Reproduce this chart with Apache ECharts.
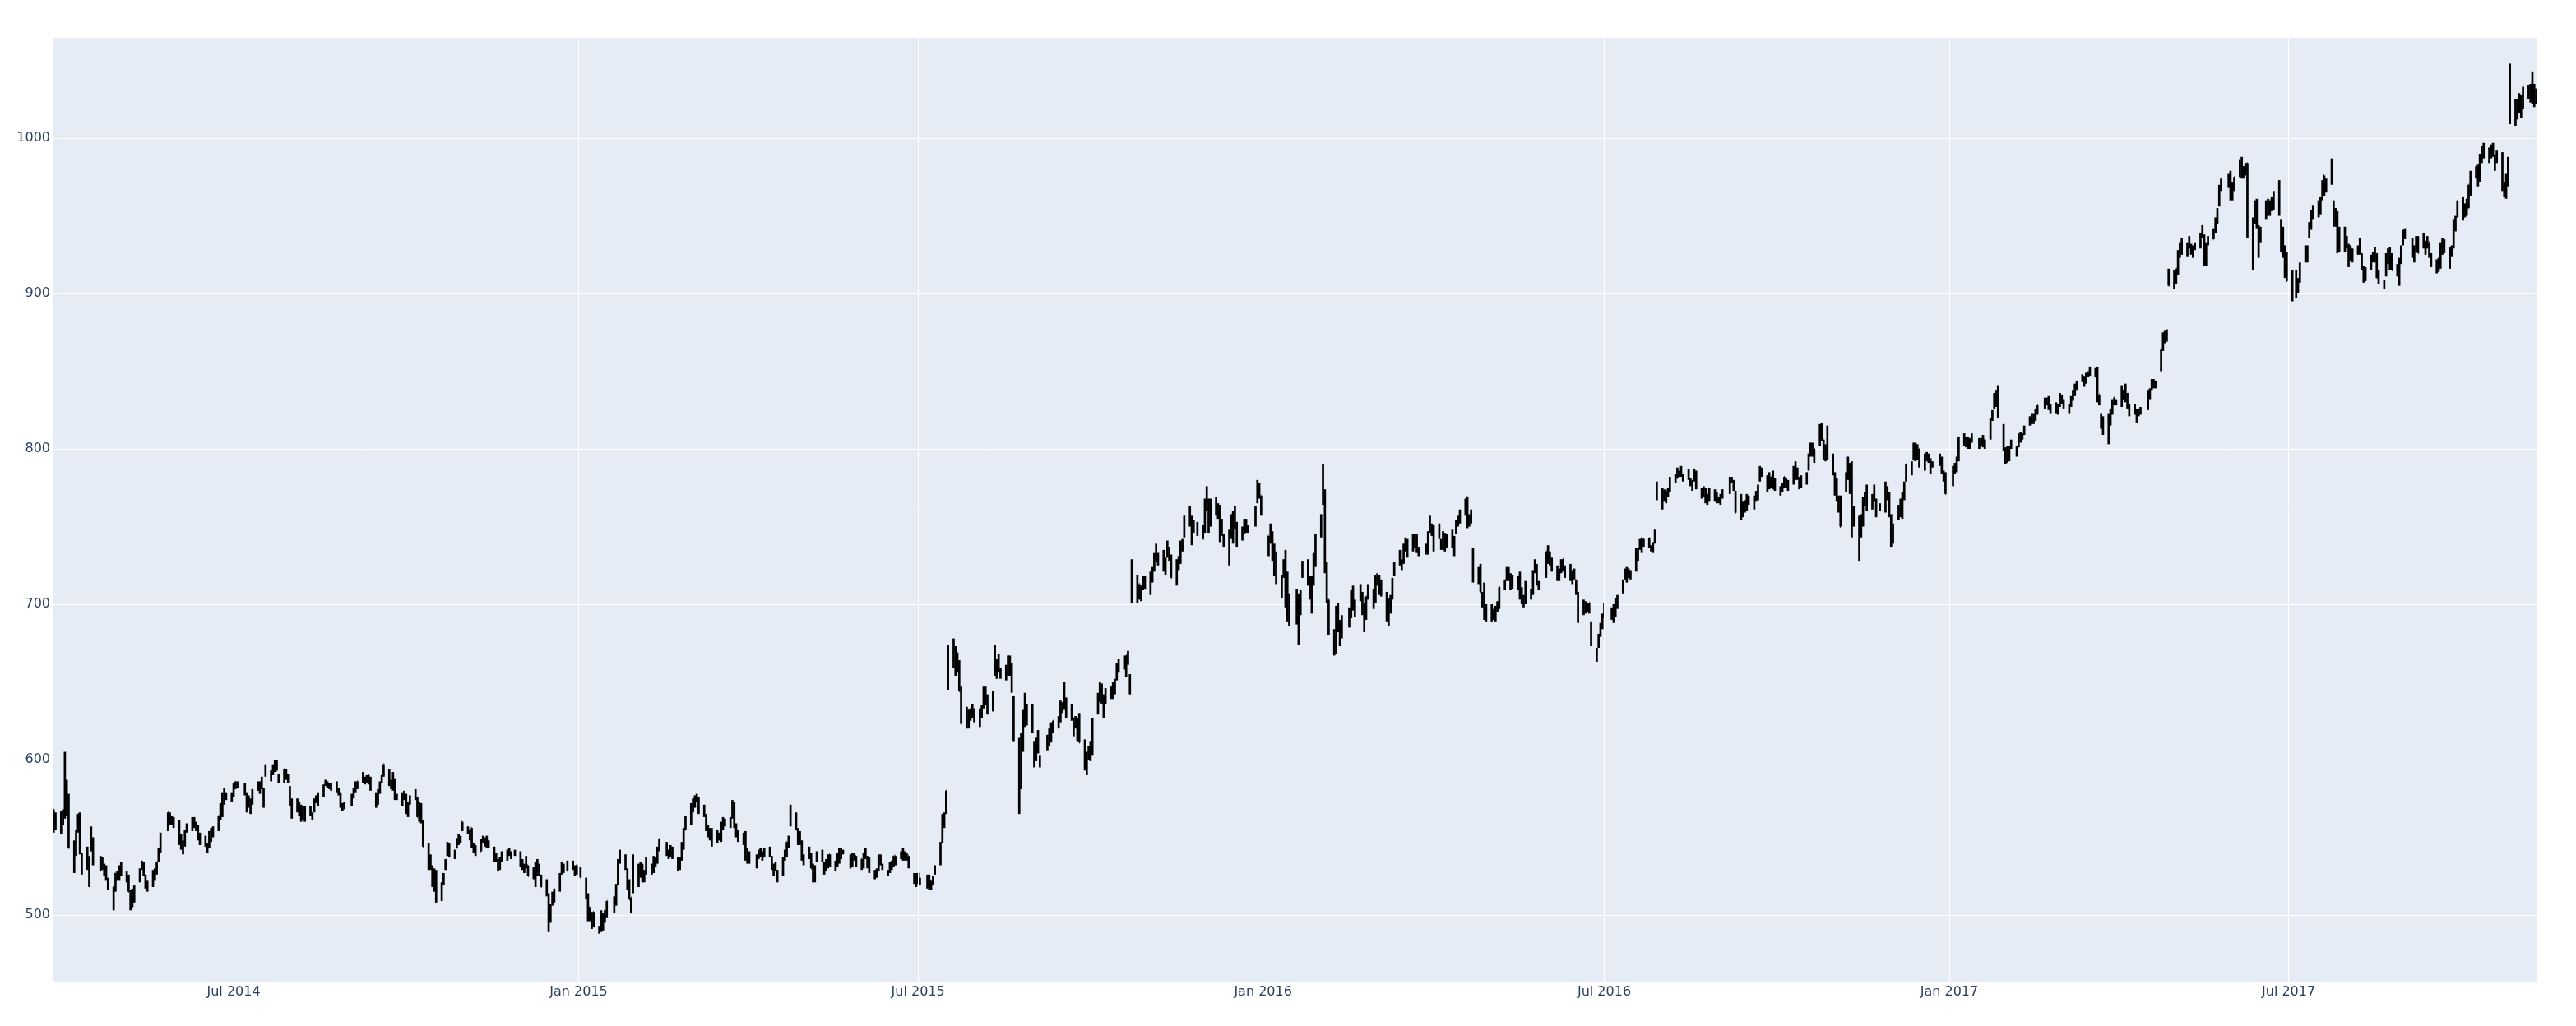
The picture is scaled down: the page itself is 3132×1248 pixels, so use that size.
<!DOCTYPE html>
<html>
<head>
<meta charset="utf-8">
<title>OHLC</title>
<script src="https://cdn.jsdelivr.net/npm/echarts@6.0.0/dist/echarts.min.js"></script>
<style>
  html, body { margin: 0; padding: 0; background: #fff; }
  #chart { width: 3132px; height: 1248px; }
</style>
</head>
<body>
<div id="chart"></div>
<script>
// daily [open, high, low, close], one inner list per month, in trading-day order
const ohlc2014 = [
  // Mar (from 27th)
  [[568,568,553,558],[561,566,555,560],[566,567,552,557]],
  // Apr
  [[558,568,558,567],[600,605,562,567],[570,587,564,570],[575,578,543,543],[541,548,527,538],[543,555,538,554],[559,565,553,565],[565,566,539,540],[532,540,526,530],[538,544,529,533],[536,538,518,536],[544,557,541,556],[548,550,532,537],[537,538,528,535],[536,537,529,534],[533,533,525,527],[531,532,522,526],[523,524,516,517],[518,518,503,517],[517,527,515,527],[527,528,522,527]],
  // May
  [[526,532,522,531],[533,534,525,527],[524,528,521,527],[525,526,515,515],[515,516,503,509],[508,517,505,512],[511,519,508,518],[524,530,521,529],[531,535,529,533],[533,534,525,526],[525,526,517,520],[521,522,515,520],[520,529,518,528],[528,530,522,526],[528,534,526,534],[536,543,534,540],[541,553,540,552],[556,566,554,566],[565,566,558,559],[563,564,558,561],[561,563,556,560]],
  // Jun
  [[560,561,545,553],[550,552,542,544],[541,548,539,544],[546,555,544,553],[558,559,553,557],[557,563,554,562],[560,563,556,560],[558,560,554,558],[557,558,548,551],[552,553,545,551],[549,551,544,544],[544,546,540,543],[544,554,543,553],[554,556,547,555],[556,557,550,556],[556,564,554,564],[565,572,561,565],[565,579,563,578],[578,582,571,576],[577,579,574,577],[578,579,573,575]],
  // Jul
  [[578,585,576,582],[583,586,581,583],[584,586,582,584],[583,585,577,582],[577,579,566,571],[572,577,569,576],[566,575,565,571],[572,581,571,580],[582,586,580,584],[585,586,578,583],[588,589,581,582],[580,582,569,574],[593,597,589,594],[592,593,586,589],[591,597,590,594],[593,600,592,596],[595,600,593,593],[590,591,585,590],[588,594,585,594],[593,594,587,588],[590,591,585,588],[581,583,570,572]],
  // Aug
  [[570,575,562,566],[569,575,566,573],[572,573,564,565],[561,571,560,566],[568,570,561,563],[563,570,560,568],[569,570,564,567],[564,566,561,563],[567,575,566,574],[576,577,572,575],[578,579,570,574],[577,584,576,582],[585,587,583,586],[585,586,582,585],[584,585,581,583],[583,585,580,582],[585,586,579,580],[581,582,577,578],[578,579,569,572],[570,572,567,570],[572,573,568,572]],
  // Sep
  [[571,578,570,577],[580,582,575,578],[580,586,579,582],[584,586,581,586],[587,592,585,589],[588,589,584,586],[587,590,585,589],[587,590,584,590],[588,589,580,581],[578,579,569,573],[572,581,571,579],[580,586,578,584],[586,590,585,589],[591,597,589,597],[593,594,583,587],[586,587,581,582],[582,592,580,591],[587,588,574,575],[576,578,574,577],[571,579,570,576],[576,580,574,577]],
  // Oct
  [[576,578,565,568],[567,573,563,570],[574,577,571,575],[578,581,574,577],[575,576,563,563],[564,573,560,572],[571,572,559,560],[558,561,544,544],[544,546,529,530],[535,539,529,536],[529,532,518,530],[520,530,515,524],[528,529,508,511],[510,521,509,520],[526,527,519,526],[530,536,529,533],[539,547,538,544],[545,546,537,539],[538,542,536,540],[543,549,543,549],[549,552,545,549],[547,551,546,550],[560,560,554,559]],
  // Nov
  [[556,557,552,555],[553,555,548,554],[556,556,543,545],[546,546,540,542],[545,545,538,541],[541,549,541,547],[548,551,546,550],[549,550,544,547],[550,551,543,546],[547,548,543,545],[543,544,534,537],[536,540,534,536],[535,536,528,530],[530,537,529,535],[540,541,534,537],[537,542,535,539],[540,543,538,541],[540,541,536,540],[540,542,538,541]],
  // Dec
  [[538,541,531,533],[533,536,529,534],[531,533,527,531],[531,538,530,537],[532,532,525,525],[526,531,523,527],[523,534,518,533],[533,536,525,526],[527,533,525,528],[524,526,518,518],[522,523,512,514],[512,514,489,496],[497,507,495,505],[510,515,506,513],[511,517,508,516],[516,527,515,523],[528,534,526,530],[531,533,527,528],[529,535,528,534],[533,535,529,530],[529,532,525,531],[532,532,526,527]]
];

const ohlc2015 = [
  // Jan
  [[529,531,524,524],[523,524,510,511],[513,514,496,499],[505,505,496,497],[496,502,491,500],[502,502,492,493],[492,493,488,490],[497,503,489,493],[492,501,490,498],[503,503,495,500],[500,509,498,509],[511,512,501,506],[507,520,506,518],[521,536,519,534],[536,542,533,539],[538,539,529,535],[529,530,516,518],[522,523,510,510],[511,511,501,511],[515,539,514,534]],
  // Feb
  [[532,533,518,528],[527,534,524,529],[527,533,521,522],[523,529,521,527],[528,537,526,531],[529,533,526,527],[530,538,527,536],[535,537,531,535],[537,544,533,542],[543,549,541,549],[546,547,538,541],[541,542,536,539],[538,545,537,543],[543,544,536,538],[536,537,528,531],[530,537,529,536],[536,547,535,543],[543,556,542,555],[555,564,555,558]],
  // Mar
  [[560,572,558,571],[570,575,566,573],[571,577,569,573],[575,578,573,575],[574,576,565,567],[566,571,563,569],[564,565,554,555],[555,558,550,552],[553,556,548,555],[553,556,544,548],[550,555,546,554],[551,553,548,551],[552,560,547,559],[560,563,555,557],[561,562,557,560],[558,563,556,559],[563,574,562,570],[570,573,556,558],[557,559,550,555],[553,555,547,548],[551,553,545,552],[549,554,535,541]],
  // Apr
  [[539,543,533,542],[540,541,533,535],[533,539,530,536],[537,542,536,537],[538,543,537,541],[541,541,535,540],[542,543,537,540],[538,544,537,539],[537,538,529,530],[529,533,525,532],[530,534,528,533],[528,529,521,524],[526,537,525,535],[539,542,535,539],[540,547,537,547],[544,551,543,547],[566,571,557,565],[563,566,555,555],[555,556,545,553],[550,554,545,549],[547,548,535,537]],
  // May
  [[538,539,532,537],[538,544,536,540],[538,540,530,530],[531,533,521,524],[524,532,521,530],[536,541,534,538],[538,542,534,535],[531,534,526,530],[531,536,528,529],[533,539,530,538],[539,539,531,533],[531,535,528,532],[533,540,531,537],[538,543,533,539],[538,543,536,542],[541,542,539,540],[538,539,530,532],[533,540,531,539],[538,540,535,539],[538,538,531,532]],
  // Jun
  [[536,536,529,533],[532,540,530,537],[539,543,536,539],[537,538,530,536],[536,537,527,529],[528,529,523,526],[527,530,524,526],[529,539,528,536],[538,539,532,535],[532,533,529,532],[528,529,525,528],[529,534,527,533],[531,535,529,534],[532,538,531,538],[538,538,532,533],[537,541,536,538],[540,543,535,540],[540,541,535,538],[538,540,535,536],[538,538,530,532],[526,527,520,521],[526,527,518,521]],
  // Jul
  [[525,527,520,524],[522,524,519,523],[519,526,517,522],[524,526,516,525],[522,522,516,517],[524,525,519,520],[527,532,526,530],[533,547,532,546],[547,565,546,561],[561,566,556,560],[566,580,565,580],[650,674,645,673],[660,678,659,664],[660,673,654,662],[660,669,656,662],[661,664,644,644],[647,647,623,623],[621,634,620,627],[632,632,620,628],[628,633,625,632],[630,636,627,631],[632,633,624,625]],
  // Aug
  [[625,633,621,631],[629,635,627,629],[634,647,633,644],[645,647,635,643],[640,642,629,635],[639,644,631,633],[669,674,654,660],[658,665,652,659],[662,668,656,657],[655,659,652,657],[658,661,651,660],[661,667,654,656],[656,667,654,660],[656,662,643,647],[640,641,612,612],[573,614,565,589],[614,617,581,582],[610,632,605,628],[640,643,621,637],[633,636,622,630],[627,636,617,619]],
  // Sep
  [[602,612,595,597],[605,614,599,614],[617,619,604,606],[600,603,595,600],[612,616,606,612],[616,620,609,613],[613,624,611,621],[619,625,617,625],[625,628,620,624],[626,638,624,635],[635,637,630,635],[637,650,632,642],[637,640,627,629],[634,636,625,635],[627,627,615,622],[622,628,620,622],[617,627,612,625],[629,630,611,611],[610,613,593,594],[597,605,590,594],[603,609,600,608]],
  // Oct
  [[608,612,599,611],[607,627,603,626],[632,643,629,641],[639,650,637,645],[648,649,636,642],[641,642,627,639],[640,646,636,643],[642,647,639,646],[643,650,639,645],[647,652,642,651],[654,662,651,661],[664,665,656,662],[661,667,658,666],[664,667,653,667],[667,670,661,662],[653,655,642,651],[714,729,701,702],[702,719,701,712],[707,713,703,713],[708,712,702,712],[710,718,709,716],[715,718,710,710]],
  // Nov
  [[711,721,706,721],[718,724,714,722],[722,733,721,728],[729,739,727,731],[731,733,725,733],[730,735,721,724],[724,730,719,728],[732,741,730,735],[731,737,728,732],[729,732,717,717],[715,729,712,728],[729,731,722,726],[727,741,726,740],[738,742,734,738],[747,757,743,756],[757,763,750,755],[749,757,738,749],[750,754,746,748],[749,753,744,750],[749,751,742,742]],
  // Dec
  [[747,768,746,767],[768,776,760,762],[766,768,746,752],[753,768,750,766],[767,769,757,763],[757,765,755,763],[760,764,740,751],[752,755,744,749],[741,745,737,738],[741,748,725,747],[753,758,742,743],[750,760,739,758],[763,763,748,749],[746,753,737,739],[746,750,741,748],[751,755,745,750],[753,755,746,750],[749,751,746,748],[753,763,750,762],[766,780,765,776],[776,778,768,771],[770,770,757,758]]
];

const ohlc2016 = [
  // Jan
  [[744,744,731,741],[746,752,739,743],[730,747,728,743],[731,739,718,726],[731,734,713,714],[717,719,704,716],[722,729,717,726],[731,735,698,701],[705,721,689,714],[692,707,686,694],[703,710,687,697],[688,707,674,699],[702,709,693,706],[723,728,717,726],[723,729,712,713],[713,718,703,709],[713,718,694,699],[722,733,712,731],[732,745,724,742]],
  // Feb
  [[750,758,743,752],[785,790,764,765],[770,774,720,726],[722,727,701,708],[703,703,680,683],[668,684,667,683],[672,699,668,678],[686,701,682,685],[675,690,673,683],[690,693,678,682],[692,698,685,691],[699,709,691,708],[710,712,696,697],[695,703,692,701],[707,713,702,707],[701,708,693,695],[688,701,682,699],[700,705,690,705],[708,713,703,706],[700,710,697,697]],
  // Mar
  [[704,719,701,718],[719,720,712,718],[718,719,706,712],[715,716,705,710],[706,708,689,695],[688,704,686,693],[698,706,694,705],[708,717,703,712],[721,727,718,726],[726,735,725,730],[727,729,722,728],[727,739,726,737],[736,743,734,737],[741,742,730,737],[737,745,734,742],[737,745,736,740],[742,745,733,738],[733,737,731,735],[736,739,732,733],[735,747,732,745],[751,757,746,750],[750,752,744,745]],
  // Apr
  [[738,751,734,750],[750,752,742,745],[738,742,735,738],[736,747,735,747],[745,746,734,737],[743,745,736,739],[744,748,736,737],[738,744,731,743],[749,754,745,752],[752,757,750,753],[753,761,752,759],[760,768,757,766],[769,769,749,753],[752,758,750,753],[755,761,752,759],[727,736,714,718],[716,724,713,723],[726,726,708,708],[707,708,698,699],[708,714,690,692],[690,700,689,693]],
  // May
  [[697,700,689,698],[696,697,690,692],[690,699,689,695],[697,702,695,701],[698,711,697,711],[712,716,709,712],[716,724,715,723],[723,724,715,716],[718,720,709,713],[711,719,710,710],[710,718,709,716],[715,721,703,706],[703,711,700,706],[702,706,698,701],[701,715,700,709],[708,710,703,704],[707,722,706,720],[724,729,720,725],[723,726,712,714],[713,715,709,712],[718,734,717,734]],
  // Jun
  [[731,738,726,734],[732,734,725,730],[729,730,721,723],[724,725,715,716],[720,723,715,716],[723,729,720,728],[723,729,721,729],[723,725,717,719],[716,726,715,718],[716,722,713,718],[719,723,716,719],[714,716,706,714],[708,708,688,692],[698,703,693,694],[699,702,694,696],[699,701,695,697],[697,701,694,701],[675,689,673,675],[671,672,663,668],[679,681,672,680],[683,688,679,684],[685,694,684,693]],
  // Jul
  [[692,701,691,699],[697,698,690,695],[690,700,688,698],[699,704,692,695],[699,706,697,705],[708,716,707,715],[719,723,716,720],[723,724,714,716],[721,723,717,721],[721,722,716,719],[722,736,721,733],[729,736,728,736],[737,742,735,741],[741,743,733,739],[741,742,737,742],[740,743,736,739],[737,738,734,737],[738,740,733,737],[747,748,739,745],[772,779,767,768]],
  // Aug
  [[762,775,761,772],[772,774,766,771],[768,773,765,773],[773,775,769,771],[773,782,772,782],[782,784,778,781],[781,788,781,784],[784,786,782,785],[785,789,782,784],[781,784,779,783],[783,787,780,782],[780,781,776,777],[777,780,773,779],[780,787,779,786],[785,786,774,775],[774,775,768,772],[775,776,769,772],[770,775,765,769],[768,771,764,769],[769,775,766,769],[768,774,766,772],[771,772,765,767],[767,769,765,767]],
  // Sep
  [[769,771,764,768],[773,774,768,772],[773,782,771,780],[780,782,778,781],[778,780,773,775],[771,773,759,759],[755,771,754,770],[765,766,756,760],[760,767,759,762],[762,771,760,769],[769,770,764,768],[769,770,761,765],[769,773,766,772],[772,777,767,776],[780,789,779,787],[786,788,782,786],[782,783,772,774],[775,785,774,783],[778,782,775,782],[781,786,774,776],[776,781,773,777]],
  // Oct
  [[775,776,770,773],[776,778,772,776],[779,782,775,782],[780,781,775,776],[779,780,773,776],[778,789,777,785],[786,792,780,783],[783,788,780,786],[781,782,774,779],[781,783,775,778],[779,785,777,780],[787,797,786,795],[798,804,795,801],[803,804,795,797],[795,800,791,800],[804,816,802,813],[816,817,805,807],[806,806,793,799],[801,803,792,795],[808,815,793,796],[796,797,783,784]],
  // Nov
  [[783,785,770,783],[778,781,766,768],[768,770,759,762],[750,770,750,762],[774,785,772,782],[784,795,780,791],[779,791,771,785],[791,792,743,763],[757,763,750,762],[755,757,728,736],[746,758,743,754],[751,769,750,765],[767,772,763,772],[772,777,760,761],[762,771,761,770],[772,777,766,768],[767,768,756,761],[764,765,760,762],[760,779,759,768],[772,776,767,770],[771,772,756,758]],
  // Dec
  [[757,758,737,747],[745,752,739,750],[757,764,754,762],[764,768,756,759],[761,772,755,771],[772,779,767,777],[781,790,779,790],[785,792,783,790],[793,804,793,797],[797,804,792,797],[797,803,793,798],[800,800,788,791],[790,797,786,794],[797,798,792,797],[796,797,791,794],[793,794,784,791],[790,792,788,790],[791,797,789,792],[794,795,784,785],[784,786,779,783],[783,785,771,771]]
];

const ohlc2017 = [
  // Jan
  [[778,789,776,786],[788,791,784,787],[787,795,785,794],[795,808,792,806],[806,810,802,806],[807,808,801,804],[805,808,800,807],[805,807,800,806],[805,810,804,807],[806,807,800,804],[805,807,802,806],[806,809,801,802],[806,806,800,805],[808,820,806,819],[822,825,818,823],[829,836,826,835],[837,838,827,832],[834,841,820,823],[815,816,799,802],[796,801,790,796]],
  // Feb
  [[799,802,791,796],[793,802,792,798],[802,806,800,801],[800,802,795,801],[803,810,801,806],[807,811,804,808],[809,810,806,809],[811,815,809,813],[816,821,815,819],[819,823,816,820],[819,823,816,818],[819,826,818,824],[823,828,822,828],[828,833,826,831],[829,833,828,830],[831,834,825,831],[827,829,823,828],[825,830,823,829],[826,829,822,824]],
  // Mar
  [[829,836,827,835],[834,835,829,831],[830,832,826,830],[827,829,823,828],[828,834,827,831],[833,838,831,835],[835,842,834,838],[843,844,838,843],[844,848,843,845],[843,847,840,845],[847,849,842,847],[849,850,846,848],[851,853,847,852],[850,852,846,849],[852,853,830,831],[831,835,828,835],[821,823,813,817],[820,821,809,814],[806,823,803,819],[820,826,815,820],[825,832,822,831],[833,833,828,831],[829,832,828,829]],
  // Apr
  [[829,841,827,838],[832,838,832,834],[835,842,830,831],[832,836,826,828],[827,829,821,824],[826,829,822,824],[825,826,817,823],[822,826,821,825],[823,827,822,824],[826,838,825,837],[834,839,832,836],[840,845,838,842],[843,845,839,843],[843,844,839,843],[851,864,850,862],[866,875,863,872],[874,876,868,871],[873,877,869,874],[910,916,905,905]],
  // May
  [[907,915,903,912],[909,916,906,916],[914,928,912,927],[926,933,923,931],[933,936,925,934],[926,933,924,932],[936,937,929,932],[931,932,925,929],[926,931,923,930],[931,933,928,932],[932,939,929,937],[940,944,936,943],[935,938,918,919],[921,933,918,930],[932,937,931,934],[935,942,935,941],[948,949,939,948],[952,955,945,954],[958,970,956,969],[969,974,966,971],[971,977,968,975],[975,979,960,964]],
  // Jun
  [[968,972,960,967],[969,975,966,975],[976,986,975,983],[983,988,974,976],[979,982,974,980],[982,984,976,983],[984,984,936,949],[939,949,915,942],[951,960,945,953],[959,961,942,950],[933,944,923,942],[941,943,933,939],[949,960,948,957],[957,961,950,951],[953,960,950,960],[958,962,953,957],[956,966,954,965],[970,973,950,952],[943,948,927,927],[930,943,923,940],[929,931,910,917],[926,927,908,908]],
  // Jul
  [[912,915,895,898],[901,915,897,912],[905,910,900,906],[909,920,907,918],[921,931,920,928],[926,931,920,930],[938,946,936,943],[946,954,941,947],[952,957,948,955],[954,960,949,953],[954,962,951,961],[963,973,960,971],[976,976,963,968],[968,974,965,972],[973,987,970,980],[954,960,943,950],[954,955,943,947],[951,953,926,934],[929,943,927,941],[941,943,927,930]],
  // Aug
  [[932,937,929,930],[928,932,917,930],[930,931,921,923],[924,929,920,927],[929,931,925,929],[927,936,925,926],[921,926,915,922],[917,918,907,908],[911,917,908,914],[918,925,915,922],[925,927,920,922],[925,930,920,926],[925,926,910,910],[910,915,906,907],[905,909,903,907],[912,926,911,924],[921,929,919,927],[929,930,915,924],[923,926,915,915],[917,919,911,914],[906,923,905,921],[921,931,919,930],[932,941,931,940]],
  // Sep
  [[941,942,935,941],[933,936,923,928],[930,931,920,927],[931,937,927,935],[936,937,926,926],[934,939,929,930],[933,934,925,932],[930,937,929,936],[933,933,923,926],[924,926,917,920],[920,922,913,915],[917,923,914,920],[923,933,916,931],[933,936,925,932],[927,935,926,929],[926,930,916,921],[925,931,924,925],[930,948,929,944],[942,950,940,949],[952,960,949,959]],
  // Oct
  [[959,962,947,953],[954,958,949,957],[957,961,950,951],[955,970,955,970],[967,979,963,978],[976,982,974,977],[981,983,969,972],[973,990,972,989],[988,995,984,987],[993,997,987,989],[992,994,984,992],[990,996,987,992],[991,997,988,992],[986,989,979,984],[990,992,984,988],[990,991,966,968],[971,972,962,970],[968,977,961,973],[980,988,969,972],[1010,1048,1009,1019],[1015,1025,1008,1017],[1016,1025,1012,1016]],
  // Nov (to 10th)
  [[1017,1029,1016,1025],[1022,1028,1013,1026],[1022,1033,1019,1033],[1028,1034,1025,1032],[1028,1035,1023,1025],[1025,1043,1022,1040],[1034,1035,1020,1031],[1027,1032,1022,1028]]
];

// market holidays inside the range (no bar on these weekdays)
const holidays = [
  '2014-04-18','2014-05-26','2014-07-04','2014-09-01','2014-11-27','2014-12-25',
  '2015-01-01','2015-01-19','2015-02-16','2015-04-03','2015-05-25','2015-07-03','2015-09-07','2015-11-26','2015-12-25',
  '2016-01-01','2016-01-18','2016-02-15','2016-03-25','2016-05-30','2016-07-04','2016-09-05','2016-11-24','2016-12-26',
  '2017-01-02','2017-01-16','2017-02-20','2017-04-14','2017-05-29','2017-07-04','2017-09-04'
];

// x axis ticks
const xTickDates = ['2014-07-01','2015-01-01','2015-07-01','2016-01-01','2016-07-01','2017-01-01','2017-07-01'];
const xTickLabels = ['Jul 2014','Jan 2015','Jul 2015','Jan 2016','Jul 2016','Jan 2017','Jul 2017'];

const DAY = 86400000;

function tradingDays(year, month, fromDay) {
  const out = [];
  const last = new Date(Date.UTC(year, month + 1, 0)).getUTCDate();
  for (let d = fromDay; d <= last; d++) {
    const t = Date.UTC(year, month, d);
    const dt = new Date(t);
    const wd = dt.getUTCDay();
    if (wd === 0 || wd === 6) continue;
    if (holidays.includes(dt.toISOString().slice(0, 10))) continue;
    out.push(t);
  }
  return out;
}

const bars = [];
[[2014, 2, ohlc2014], [2015, 0, ohlc2015], [2016, 0, ohlc2016], [2017, 0, ohlc2017]].forEach(([year, m0, months]) => {
  months.forEach((rows, i) => {
    const m = m0 + i;
    const days = tradingDays(year, m, (year === 2014 && m === 2) ? 27 : 1);
    if (days.length !== rows.length) console.warn('month', year, m + 1, days.length, rows.length);
    rows.forEach((r, k) => {
      if (days[k] !== undefined) bars.push([days[k], r[0], r[1], r[2], r[3]]);
    });
  });
});

const tickTimes = xTickDates.map(d => Date.parse(d + 'T00:00:00Z'));

const chart = echarts.init(document.getElementById('chart'));

const labelStyle = {
  color: '#2a3f5f',
  fontFamily: 'DejaVu Sans',
  fontSize: 16
};

chart.setOption({
  animation: false,
  backgroundColor: '#fff',
  grid: {
    left: 64,
    right: 47,
    top: 46,
    bottom: 53,
    show: true,
    backgroundColor: '#E5ECF6',
    borderWidth: 0
  },
  xAxis: {
    // timestamps (ms, UTC) on a plain value axis
    type: 'value',
    min: Date.UTC(2014, 2, 26, 11, 20),
    max: Date.UTC(2017, 10, 10, 15, 30),
    axisLine: { show: false },
    axisTick: { show: false },
    splitLine: { show: false },
    axisLabel: {
      ...labelStyle,
      margin: 4,
      hideOverlap: false,
      showMinLabel: true,
      showMaxLabel: true,
      customValues: tickTimes,
      formatter: (v) => {
        const i = tickTimes.indexOf(v);
        return i >= 0 ? xTickLabels[i] : '';
      }
    }
  },
  yAxis: {
    type: 'value',
    min: 456.6,
    max: 1064.6,
    splitNumber: 6,
    axisLine: { show: false },
    axisTick: { show: false },
    axisLabel: {
      ...labelStyle,
      margin: 3,
      showMinLabel: false,
      showMaxLabel: false,
      formatter: (v) => String(v)
    },
    splitLine: {
      show: true,
      showMinLine: false,
      showMaxLine: false,
      lineStyle: { color: '#fff', width: 1 }
    }
  },
  series: [
    {
      // vertical grid lines at the date ticks
      type: 'line',
      data: [],
      z: 1,
      silent: true,
      markLine: {
        silent: true,
        animation: false,
        symbol: ['none', 'none'],
        label: { show: false },
        lineStyle: { color: '#fff', width: 1, type: 'solid' },
        data: tickTimes.map(t => ({ xAxis: t }))
      }
    },
    {
      type: 'custom',
      z: 2,
      clip: true,
      data: bars,
      encode: { x: 0, y: [1, 2, 3, 4] },
      renderItem: (params, api) => {
        const t = api.value(0);
        const o = api.coord([t, api.value(1)]);
        const h = api.coord([t, api.value(2)]);
        const l = api.coord([t, api.value(3)]);
        const c = api.coord([t, api.value(4)]);
        const tw = api.size([DAY, 0])[0] * 0.3;
        const style = { stroke: '#000', lineWidth: 2.7, fill: null };
        return {
          type: 'group',
          children: [
            { type: 'line', shape: { x1: h[0], y1: h[1], x2: l[0], y2: l[1] }, style },
            { type: 'line', shape: { x1: o[0] - tw, y1: o[1], x2: o[0], y2: o[1] }, style },
            { type: 'line', shape: { x1: c[0], y1: c[1], x2: c[0] + tw, y2: c[1] }, style }
          ]
        };
      }
    }
  ]
});
</script>
</body>
</html>
